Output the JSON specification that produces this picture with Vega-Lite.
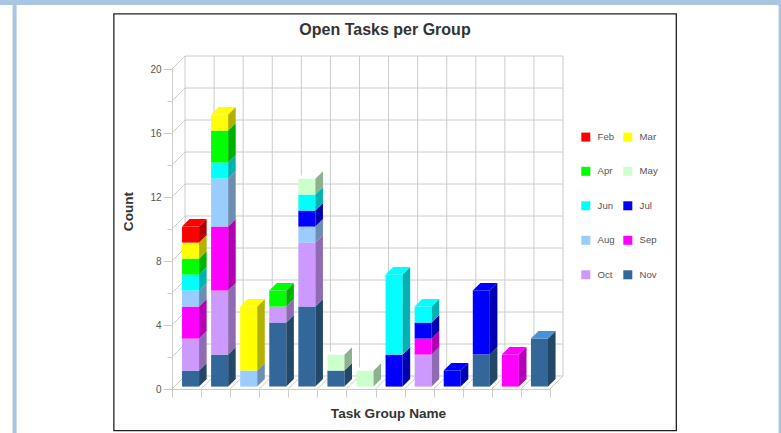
{
"$schema":"https://vega.github.io/schema/vega-lite/v6.json",
"width":378,"height":320,
"autosize":{"type":"none"},
"padding":{"left":172,"top":69,"right":231,"bottom":44},
"background":"white",
"config":{"view":{"stroke":null},"font":"Liberation Sans"},
"title":{"text":"Open Tasks per Group","anchor":"middle","dx":24,"offset":-38,"fontSize":16,"fontWeight":"bold","color":"#333333","font":"Liberation Sans"},
"datasets":{
"tasks":[
{"group":1,"month":"Nov","count":1},{"group":1,"month":"Oct","count":2},{"group":1,"month":"Sep","count":2},{"group":1,"month":"Aug","count":1},{"group":1,"month":"Jun","count":1},{"group":1,"month":"Apr","count":1},{"group":1,"month":"Mar","count":1},{"group":1,"month":"Feb","count":1},
{"group":2,"month":"Nov","count":2},{"group":2,"month":"Oct","count":4},{"group":2,"month":"Sep","count":4},{"group":2,"month":"Aug","count":3},{"group":2,"month":"Jun","count":1},{"group":2,"month":"Apr","count":2},{"group":2,"month":"Mar","count":1},
{"group":3,"month":"Aug","count":1},{"group":3,"month":"Mar","count":4},
{"group":4,"month":"Nov","count":4},{"group":4,"month":"Oct","count":1},{"group":4,"month":"Apr","count":1},
{"group":5,"month":"Nov","count":5},{"group":5,"month":"Oct","count":4},{"group":5,"month":"Aug","count":1},{"group":5,"month":"Jul","count":1},{"group":5,"month":"Jun","count":1},{"group":5,"month":"May","count":1},
{"group":6,"month":"Nov","count":1},{"group":6,"month":"May","count":1},
{"group":7,"month":"May","count":1},
{"group":8,"month":"Jul","count":2},{"group":8,"month":"Jun","count":5},
{"group":9,"month":"Oct","count":2},{"group":9,"month":"Sep","count":1},{"group":9,"month":"Jul","count":1},{"group":9,"month":"Jun","count":1},
{"group":10,"month":"Jul","count":1},
{"group":11,"month":"Nov","count":2},{"group":11,"month":"Jul","count":4},
{"group":12,"month":"Sep","count":2},
{"group":13,"month":"Nov","count":3}
],
"yv":[{"v":0},{"v":2},{"v":4},{"v":6},{"v":8},{"v":10},{"v":12},{"v":14},{"v":16},{"v":18},{"v":20}],
"xv":[{"k":0},{"k":1},{"k":2},{"k":3},{"k":4},{"k":5},{"k":6},{"k":7},{"k":8},{"k":9},{"k":10},{"k":11},{"k":12},{"k":13}]
},
"data":{"name":"tasks"},
"transform":[
{"calculate":"indexof(['Nov','Oct','Sep','Aug','Jul','Jun','May','Apr','Mar','Feb'],datum.month)","as":"rank"},
{"stack":"count","groupby":["group"],"sort":[{"field":"rank","order":"ascending"}],"as":["s0","s1"]},
{"calculate":"datum.group-1+0.345","as":"xl"},
{"calculate":"datum.xl+0.586","as":"xr"},
{"calculate":"datum.s0+0.15","as":"yb"},
{"calculate":"datum.s1+0.15","as":"yt"},
{"calculate":"datum.group+'-'+datum.month","as":"key"},
{"calculate":"[0,1]","as":"d"},
{"flatten":["d"]}
],
"layer":[
{"data":{"values":[{}]},"mark":{"type":"rect","fill":"#a9c5e1"},"encoding":{
"x":{"datum":-5.931,"type":"quantitative","scale":{"domain":[0,13],"nice":false,"zero":false},"axis":null},"x2":{"datum":21},
"y":{"datum":24.3125,"type":"quantitative","scale":{"domain":[0,20],"nice":false,"zero":false},"axis":null},"y2":{"datum":24}}},
{"data":{"values":[{}]},"mark":{"type":"rect","fill":"#a9c5e1"},"encoding":{
"x":{"datum":-5.483,"type":"quantitative","scale":{"domain":[0,13],"nice":false,"zero":false},"axis":null},"x2":{"datum":-5.345},
"y":{"datum":24,"type":"quantitative","scale":{"domain":[0,20],"nice":false,"zero":false},"axis":null},"y2":{"datum":-2.75}}},
{"data":{"values":[{}]},"mark":{"type":"rect","fill":"#a9c5e1"},"encoding":{
"x":{"datum":20.862,"type":"quantitative","scale":{"domain":[0,13],"nice":false,"zero":false},"axis":null},"x2":{"datum":21},
"y":{"datum":24,"type":"quantitative","scale":{"domain":[0,20],"nice":false,"zero":false},"axis":null},"y2":{"datum":-2.75}}},
{"data":{"values":[{}]},"mark":{"type":"rect","fill":"transparent","stroke":"#222222","strokeWidth":1.3},"encoding":{
"x":{"datum":-2,"type":"quantitative","scale":{"domain":[0,13],"nice":false,"zero":false},"axis":null},"x2":{"datum":17.345},
"y":{"datum":23.44,"type":"quantitative","scale":{"domain":[0,20],"nice":false,"zero":false},"axis":null},"y2":{"datum":-2.6}}},
{"data":{"name":"yv"},"transform":[{"calculate":"datum.v+0.8125","as":"vb"}],"mark":{"type":"rule","color":"#cccccc","strokeWidth":1},"encoding":{
"x":{"datum":0.448,"type":"quantitative","scale":{"domain":[0,13],"nice":false,"zero":false},"axis":null},"x2":{"datum":13.448},
"y":{"field":"vb","type":"quantitative","scale":{"domain":[0,20],"nice":false,"zero":false},"axis":null}}},
{"data":{"name":"yv"},"transform":[{"calculate":"datum.v+0.8125","as":"vb"}],"mark":{"type":"rule","color":"#cccccc","strokeWidth":1},"encoding":{
"x":{"datum":0,"type":"quantitative","scale":{"domain":[0,13],"nice":false,"zero":false},"axis":null},"x2":{"datum":0.448},
"y":{"field":"v","type":"quantitative","scale":{"domain":[0,20],"nice":false,"zero":false},"axis":null},"y2":{"field":"vb"}}},
{"data":{"name":"xv"},"transform":[{"calculate":"datum.k+0.448","as":"kb"}],"mark":{"type":"rule","color":"#cccccc","strokeWidth":1},"encoding":{
"x":{"field":"kb","type":"quantitative","scale":{"domain":[0,13],"nice":false,"zero":false},"axis":null},
"y":{"datum":0.8125,"type":"quantitative","scale":{"domain":[0,20],"nice":false,"zero":false},"axis":null},"y2":{"datum":20.8125}}},
{"data":{"name":"xv"},"transform":[{"calculate":"datum.k+0.448","as":"kb"}],"mark":{"type":"rule","color":"#cccccc","strokeWidth":1},"encoding":{
"x":{"field":"k","type":"quantitative","scale":{"domain":[0,13],"nice":false,"zero":false},"axis":null},"x2":{"field":"kb"},
"y":{"datum":0,"type":"quantitative","scale":{"domain":[0,20],"nice":false,"zero":false},"axis":null},"y2":{"datum":0.8125}}},
{"transform":[{"filter":"datum.d==0"}],"mark":{"type":"rect"},"encoding":{
"x":{"field":"xl","type":"quantitative","scale":{"domain":[0,13],"nice":false,"zero":false},
"axis":{"title":"Task Group Name","titleFontSize":13.6,"titleFontWeight":"bold","titleColor":"#333333","titleX":216,"titleY":17,"values":[0,1,2,3,4,5,6,7,8,9,10,11,12,13],"labels":false,"grid":false,"domainColor":"#cccccc","tickColor":"#cccccc","tickSize":8}},
"x2":{"field":"xr"},
"y":{"field":"yb","type":"quantitative","scale":{"domain":[0,20],"nice":false,"zero":false},
"axis":{"title":"Count","titleFontSize":13.6,"titleFontWeight":"bold","titleColor":"#333333","titleX":-37,"titleY":142,"values":[0,2,4,6,8,10,12,14,16,18,20],"labelExpr":"datum.value%4==0?datum.label:''","labelFontSize":10,"labelColor":"#555555","labelPadding":2,"grid":false,"domainColor":"#cccccc","tickColor":"#cccccc","tickSize":{"condition":{"test":"datum.value%4==0","value":9},"value":5}}},
"y2":{"field":"yt"},
"color":{"field":"month","type":"nominal","scale":{"domain":["Feb","Mar","Apr","May","Jun","Jul","Aug","Sep","Oct","Nov"],"range":["#ff0000","#ffff00","#00ff00","#ccffcc","#00ffff","#0000ff","#99ccff","#ff00ff","#cc99ff","#336699"]},
"legend":{"title":null,"orient":"none","legendX":409,"legendY":63,"direction":"horizontal","columns":2,"symbolType":"square","symbolSize":81,"symbolStrokeWidth":0,"symbolOpacity":1,"labelFontSize":9.6,"labelColor":"#555555","labelOffset":7,"rowPadding":23.5,"columnPadding":8}}}},
{"transform":[{"calculate":"datum.xr+datum.d*0.26","as":"sx"},{"calculate":"datum.yb+datum.d*0.47","as":"sy0"},{"calculate":"datum.yt+datum.d*0.47","as":"sy1"}],
"mark":{"type":"area","line":false,"opacity":1},"encoding":{
"x":{"field":"sx","type":"quantitative","scale":{"domain":[0,13],"nice":false,"zero":false},"axis":null},
"y":{"field":"sy0","type":"quantitative","stack":null,"scale":{"domain":[0,20],"nice":false,"zero":false},"axis":null},"y2":{"field":"sy1"},
"detail":{"field":"key"},
"fill":{"field":"month","type":"nominal","legend":null,"scale":{"domain":["Feb","Mar","Apr","May","Jun","Jul","Aug","Sep","Oct","Nov"],"range":["#b20000","#b2b200","#00b200","#8eb28e","#00b2b2","#0000b2","#6b8eb2","#b200b2","#8e6bb2","#234766"]}}}},
{"transform":[{"joinaggregate":[{"op":"max","field":"s1","as":"top"}],"groupby":["group"]},{"filter":"datum.s1==datum.top"},{"calculate":"datum.xl+datum.d*0.26","as":"t0"},{"calculate":"datum.xr+datum.d*0.26","as":"t1"},{"calculate":"datum.yt+datum.d*0.47","as":"ty"}],
"mark":{"type":"area","orient":"horizontal","line":false,"opacity":1},"encoding":{
"y":{"field":"ty","type":"quantitative","scale":{"domain":[0,20],"nice":false,"zero":false},"axis":null},
"x":{"field":"t0","type":"quantitative","stack":null,"scale":{"domain":[0,13],"nice":false,"zero":false},"axis":null},"x2":{"field":"t1"},
"detail":{"field":"key"},
"fill":{"field":"month","type":"nominal","legend":null,"scale":{"domain":["Feb","Mar","Apr","May","Jun","Jul","Aug","Sep","Oct","Nov"],"range":["#ff0000","#ffff00","#00ff00","#ffffff","#00ffff","#0000ff","#daffff","#ff00ff","#ffdaff","#4992da"]}}}}
],
"resolve":{"scale":{"fill":"independent"},"axis":{"x":"independent","y":"independent"}}
}
